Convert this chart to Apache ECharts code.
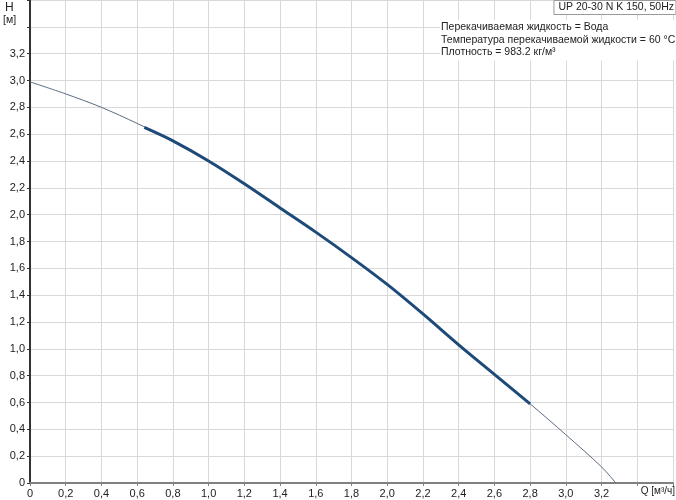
<!DOCTYPE html>
<html>
<head>
<meta charset="utf-8">
<script src="https://cdn.jsdelivr.net/npm/echarts@6/dist/echarts.min.js"></script>
<style>html,body{margin:0;padding:0;background:#fff}#c{width:676px;height:500px}</style>
</head>
<body>
<div id="c"></div>
<script>
// Full pump curve (thin)
var curveQ = [0, 0.2, 0.4, 0.6, 0.8, 1.0, 1.2, 1.4, 1.6, 1.8, 2.0, 2.2, 2.4, 2.6, 2.8, 3.0, 3.2, 3.28];
var curveH = [2.99, 2.90, 2.80, 2.68, 2.55, 2.40, 2.23, 2.05, 1.87, 1.68, 1.48, 1.26, 1.03, 0.81, 0.59, 0.36, 0.12, 0];
// Recommended operating range (thick)
var rangeQ = [0.64, 0.8, 1.0, 1.2, 1.4, 1.6, 1.8, 2.0, 2.2, 2.4, 2.6, 2.8];
var rangeH = [2.65, 2.55, 2.40, 2.23, 2.05, 1.87, 1.68, 1.48, 1.26, 1.03, 0.81, 0.59];

var titleText = 'UP 20-30 N K 150, 50Hz';
var infoLines = ['Перекачиваемая жидкость = Вода', 'Температура перекачиваемой жидкости = 60 °C', 'Плотность = 983.2 кг/м³'];
var yName = ['H', '[м]'];
var xName = 'Q [м³/ч]';

function pairs(xs, ys) { return xs.map(function (x, i) { return [x, ys[i]]; }); }
function fmt(hide) {
  return function (v) {
    if (v > hide) return '';
    if (v === 0) return '0';
    return v.toFixed(1).replace('.', ',');
  };
}
var FONT = 'Liberation Sans, Arial, sans-serif';

var chart = echarts.init(document.getElementById('c'));
chart.setOption({
  animation: false,
  backgroundColor: '#fff',
  grid: { left: 30, right: 3, top: 0, bottom: 17, containLabel: false },
  xAxis: {
    type: 'value', min: 0, max: 3.6, interval: 0.2,
    axisLine: { show: true, onZero: false, lineStyle: { color: '#808080', width: 2 } },
    axisTick: { show: true, length: 3, lineStyle: { color: '#808080' } },
    axisLabel: { formatter: fmt(3.25), color: '#222', fontSize: 11, fontFamily: FONT, margin: 5 },
    splitLine: { show: true, lineStyle: { color: '#d9d9d9', width: 1 } }
  },
  yAxis: {
    type: 'value', min: 0, max: 3.6, interval: 0.2,
    axisLine: { show: true, onZero: false, lineStyle: { color: '#333', width: 2 } },
    axisTick: { show: true, length: 3, lineStyle: { color: '#333' } },
    axisLabel: { formatter: fmt(3.25), color: '#222', fontSize: 11, fontFamily: FONT, margin: 5 },
    splitLine: { show: true, lineStyle: { color: '#d9d9d9', width: 1 } }
  },
  title: [
    {
      text: titleText, right: 0, top: 0,
      padding: [2, 2, 2, 5],
      borderColor: '#9a9a9a', borderWidth: 1, backgroundColor: '#fff',
      textStyle: { fontSize: 10.5, fontWeight: 'normal', color: '#222', fontFamily: FONT }
    },
    {
      text: infoLines.join('\n'), left: 440, top: 20,
      padding: [1, 2, 2, 1], backgroundColor: '#fff',
      textStyle: { fontSize: 10.5, fontWeight: 'normal', color: '#222', fontFamily: FONT, lineHeight: 12.5 }
    }
  ],
  graphic: [
    { type: 'text', left: 5, top: 2, style: { text: yName[0], font: '12px ' + FONT, fill: '#222' } },
    { type: 'text', left: 3, top: 15, style: { text: yName[1], font: '10.5px ' + FONT, fill: '#222' } },
    { type: 'text', right: 1, top: 486, style: { text: xName, font: '10px ' + FONT, fill: '#222' } }
  ],
  series: [
    {
      type: 'line', data: pairs(curveQ, curveH), smooth: 0.3, symbol: 'none',
      lineStyle: { color: '#5a6b80', width: 1 }, z: 3
    },
    {
      type: 'line', data: pairs(rangeQ, rangeH), smooth: 0.3, symbol: 'none',
      lineStyle: { color: '#1d4a78', width: 3 }, z: 4
    }
  ]
});
</script>
</body>
</html>
